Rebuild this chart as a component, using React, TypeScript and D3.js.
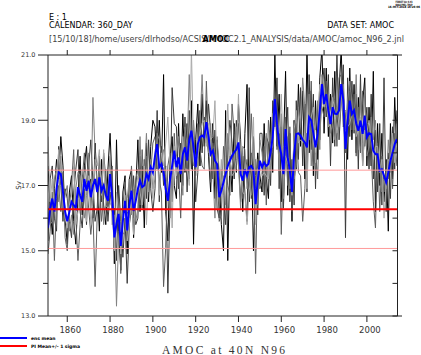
import React from "react";
import * as d3 from "d3";

const startYear = 1851;

const ensMean = [
  15.7, 16.3, 16.6, 16.2, 16.9, 17.4, 17.35, 16.8, 16.2, 15.9,
  16.2, 16.5, 16.4, 16.3, 16.95, 16.7, 16.5, 17.2, 16.84, 17.15,
  16.64, 17.0, 17.2, 16.8, 17.25, 16.84, 17.0, 16.7, 16.53, 17.35,
  16.64, 15.41, 15.82, 16.13, 15.15, 15.92, 16.53, 15.62, 16.4, 16.84,
  16.22, 16.53, 16.9, 17.15, 16.95, 17.0, 17.35, 17.2, 17.56, 17.4,
  17.9, 18.27, 17.56, 17.66, 17.4, 16.9, 16.53, 17.15, 17.6, 18.07,
  17.56, 17.86, 17.35, 17.96, 18.17, 17.76, 18.4, 18.68, 18.17, 17.56,
  18.27, 18.48, 18.53, 18.48, 18.94, 18.5, 17.96, 18.07, 17.76, 17.66,
  16.64, 16.84, 17.1, 17.35, 17.6, 17.76, 17.91, 18.02, 18.1, 18.32,
  17.35, 17.15, 17.5, 17.3, 17.56, 17.6, 17.46, 16.43, 17.15, 17.76,
  17.56, 17.71, 17.6, 17.66, 18.02, 18.48, 19.65, 18.88, 18.27, 17.96,
  17.35, 18.73, 17.86, 17.46, 16.8, 17.96, 18.58, 18.6, 18.53, 18.4,
  18.32, 18.17, 19.09, 18.99, 18.6, 18.17, 18.58, 19.3, 20.11, 19.5,
  19.8, 19.3, 18.88, 19.4, 19.2, 19.19, 19.3, 20.11, 19.6, 18.12,
  18.99, 19.6, 19.19, 19.3, 18.9, 18.68, 18.99, 18.58, 19.14, 18.48,
  18.6, 18.58, 18.07, 17.96, 17.96, 17.46, 17.5, 17.3, 17.1, 17.4,
  17.76, 18.0, 18.27, 18.42,
];

const member1 = [
  17.6, 16.4, 15.5, 16.9, 17.8, 17.2, 18.5, 17.6, 16.0, 15.2,
  16.8, 17.3, 15.9, 15.2, 16.6, 17.9, 16.1, 17.6, 18.2, 16.9,
  17.2, 16.0, 18.3, 17.0, 15.6, 17.8, 16.4, 15.8, 17.5, 18.6,
  17.0, 14.6, 18.4, 15.6, 14.4, 16.8, 17.3, 14.9, 17.2, 17.5,
  15.4, 16.9, 18.4, 16.2, 17.6, 15.7, 18.3, 16.5, 18.2, 19.0,
  18.8, 17.5, 19.0, 17.4, 20.4, 16.2, 15.3, 17.8, 18.5, 17.0,
  16.6, 18.9, 17.1, 19.2, 17.4, 18.9, 17.2, 19.6, 15.2, 18.4,
  19.5, 17.6, 19.8, 18.2, 19.6, 17.9, 16.8, 18.9, 16.6, 18.4,
  17.2, 15.8, 15.0, 19.3, 14.7, 17.9, 16.8, 18.9, 17.4, 19.5,
  18.4, 16.2, 18.6, 20.1, 16.5, 18.0, 15.0, 16.9, 18.0, 17.3,
  16.8, 18.9, 17.2, 16.6, 19.1, 17.4, 21.0, 18.2, 19.8, 16.5,
  18.2, 20.5, 16.7, 18.6, 15.9, 19.0, 17.5, 20.1, 18.2, 19.9,
  17.2, 21.1, 18.0, 19.9, 17.3, 19.6, 17.8, 20.3, 21.2, 18.6,
  20.6, 18.5, 19.8, 18.3, 20.5, 18.6, 19.9, 21.2, 18.8, 19.3,
  17.8, 20.6, 18.4, 20.1, 18.0, 19.7, 18.2, 19.5, 20.3, 17.6,
  19.4, 17.6, 20.5, 16.2, 18.9, 17.0, 18.6, 16.5, 17.8, 15.6,
  18.9, 17.2, 19.7, 18.0,
];

const member2 = [
  15.3, 17.2, 17.6, 16.0, 15.6, 18.2, 17.0, 15.9, 16.9, 16.6,
  15.9, 15.4, 16.8, 17.5, 18.1, 16.2, 15.7, 16.9, 15.8, 17.6,
  18.4, 17.1, 15.9, 16.3, 17.9, 16.5, 18.0, 17.2, 15.9, 16.8,
  16.2, 16.3, 14.7, 17.0, 15.9, 14.8, 16.0, 14.0, 15.8, 16.3,
  17.3, 15.8, 16.0, 17.9, 16.3, 17.8, 16.6, 18.4, 16.9, 16.2,
  16.9, 19.3, 16.5, 18.2, 17.0, 17.6, 13.7, 16.4, 20.0, 18.9,
  18.8, 16.9, 18.3, 17.0, 19.1, 16.8, 19.3, 17.5, 18.9, 16.5,
  17.4, 19.3, 18.0, 19.1, 18.3, 19.5, 18.6, 17.2, 18.7, 16.3,
  16.0, 17.5, 16.7, 15.8, 18.1, 19.0, 18.3, 17.2, 19.0, 17.8,
  16.5, 17.9, 16.8, 15.9, 20.0, 16.6, 18.5, 17.3, 16.1, 18.6,
  18.6, 16.7, 18.5, 18.3, 17.0, 19.6, 18.8, 20.3, 16.9, 18.8,
  16.3, 18.2, 19.4, 16.5, 17.8, 16.4, 19.6, 17.8, 20.0, 17.6,
  19.5, 16.8, 20.4, 18.1, 19.8, 16.9, 19.5, 18.4, 20.0, 20.6,
  19.1, 20.4, 17.6, 20.3, 18.2, 21.1, 18.4, 19.6, 20.7, 15.4,
  20.3, 18.5, 20.2, 18.6, 19.8, 17.5, 20.4, 17.6, 18.7, 19.4,
  17.5, 19.8, 17.2, 18.7, 16.8, 18.9, 16.4, 20.3, 16.2, 18.0,
  16.6, 18.8, 17.5, 19.3,
];

const member3 = [
  14.9, 15.6, 16.8, 14.7, 16.6, 17.0, 16.2, 17.4, 15.4, 15.0,
  16.3, 17.0, 18.1, 16.0, 14.7, 15.8, 17.2, 18.0, 17.1, 16.3,
  15.5, 16.2, 13.9, 16.1, 17.4, 15.9, 16.6, 17.5, 16.2, 17.1,
  17.6, 15.0, 15.9, 16.6, 14.3, 16.4, 17.1, 16.2, 16.0, 17.6,
  16.0, 17.2, 17.5, 16.4, 18.1, 16.5, 17.9, 17.0, 17.4, 18.3,
  18.5, 17.9, 17.2, 16.8, 13.9, 15.1, 17.6, 18.0, 16.5, 18.6,
  17.2, 17.4, 16.0, 18.3, 18.0, 17.4, 18.1, 17.9, 19.0, 17.3,
  18.9, 18.1, 17.6, 17.5, 20.2, 18.2, 17.1, 18.3, 17.9, 17.6,
  15.9, 16.1, 18.2, 17.6, 17.0, 16.7, 19.5, 18.6, 17.5, 18.9,
  17.9, 16.6, 17.3, 17.8, 17.1, 19.2, 17.6, 14.3, 17.8, 16.9,
  17.1, 18.2, 16.4, 19.0, 18.3, 18.0, 19.7, 18.1, 18.6, 15.5,
  17.8, 19.1, 17.0, 18.8, 16.2, 18.5, 18.9, 17.4, 17.3, 15.9,
  16.9, 18.6, 18.4, 20.2, 17.6, 18.0, 17.2, 19.6, 19.4, 19.1,
  20.2, 19.0, 19.5, 19.8, 19.6, 18.2, 20.3, 20.4, 19.2, 18.0,
  18.6, 19.9, 18.7, 19.8, 17.9, 19.4, 18.0, 19.9, 18.2, 18.9,
  18.9, 18.0, 16.5, 15.7, 18.3, 16.2, 17.9, 16.8, 17.5, 17.2,
  18.2, 16.9, 18.6, 17.6,
];

const member4 = [
  16.2, 15.8, 15.9, 17.2, 17.5, 16.5, 17.9, 16.3, 16.7, 17.0,
  15.6, 16.1, 15.5, 16.9, 17.4, 17.3, 16.6, 16.0, 16.7, 18.0,
  16.3, 19.7, 18.0, 16.9, 17.5, 17.2, 15.8, 16.4, 16.8, 17.9,
  15.8, 16.1, 13.3, 15.4, 16.3, 15.5, 15.6, 16.6, 17.2, 16.1,
  16.9, 15.9, 16.3, 18.5, 16.4, 17.4, 18.6, 16.8, 17.8, 16.9,
  17.2, 18.6, 18.4, 17.9, 18.1, 17.3, 16.9, 16.0, 17.3, 17.7,
  17.9, 18.5, 17.8, 16.7, 18.8, 18.2, 20.4, 18.4, 17.6, 17.9,
  17.6, 18.8, 20.4, 18.6, 18.4, 18.0, 18.9, 17.5, 16.0, 18.5,
  17.4, 17.0, 17.3, 16.4, 18.6, 17.3, 17.6, 17.9, 18.8, 17.6,
  16.3, 18.2, 18.1, 16.9, 17.4, 16.7, 17.1, 17.8, 16.4, 18.4,
  18.0, 17.3, 18.6, 17.2, 17.6, 19.2, 19.3, 19.0, 17.5, 19.2,
  16.6, 17.9, 18.5, 16.9, 17.4, 17.2, 17.6, 19.4, 18.8, 20.3,
  19.4, 17.5, 19.8, 17.6, 18.9, 18.7, 19.6, 18.1, 20.4, 19.8,
  19.4, 19.8, 18.6, 18.9, 18.4, 19.4, 18.8, 19.5, 20.1, 18.7,
  19.6, 20.2, 19.5, 18.7, 20.4, 18.1, 19.6, 18.3, 19.9, 17.9,
  18.2, 19.1, 18.4, 19.0, 17.6, 17.8, 16.8, 17.2, 16.9, 18.4,
  17.4, 18.5, 17.8, 18.9,
];

const member5 = [
  18.5, 16.5, 17.2, 16.2, 17.0, 18.1, 17.2, 16.8, 16.0, 15.7,
  16.4, 16.7, 17.6, 15.8, 16.2, 16.9, 17.5, 17.4, 15.9, 17.3,
  15.8, 16.5, 17.8, 17.6, 18.1, 16.7, 18.1, 16.4, 16.3, 16.4,
  16.6, 15.0, 16.8, 16.1, 14.9, 16.1, 16.7, 15.3, 15.8, 16.7,
  15.5, 16.8, 17.3, 16.8, 16.4, 17.6, 15.8, 17.3, 17.5, 16.6,
  18.1, 18.0, 16.7, 18.0, 17.6, 18.3, 19.1, 17.6, 15.7, 18.2,
  17.3, 17.6, 17.6, 18.5, 17.5, 17.5, 17.0, 21.2, 18.2, 17.7,
  17.9, 18.6, 18.9, 19.0, 18.2, 18.9, 18.4, 18.5, 19.6, 17.5,
  16.7, 17.8, 16.3, 17.9, 19.5, 17.8, 17.3, 17.4, 17.8, 19.8,
  17.6, 16.8, 16.7, 15.8, 16.8, 17.5, 19.1, 15.8, 17.5, 17.6,
  17.3, 17.4, 17.3, 17.2, 18.1, 18.2, 19.5, 18.8, 18.6, 19.8,
  17.9, 17.9, 17.7, 17.5, 16.7, 18.7, 19.3, 18.3, 18.4, 18.3,
  18.6, 16.9, 18.8, 19.1, 19.4, 17.7, 18.8, 20.1, 19.6, 19.4,
  19.7, 18.8, 18.9, 19.7, 19.3, 18.6, 19.1, 19.9, 19.2, 19.3,
  18.8, 18.9, 19.2, 19.3, 18.5, 18.7, 19.1, 17.6, 18.7, 18.6,
  19.0, 18.4, 17.8, 18.2, 18.2, 17.4, 17.8, 16.0, 17.1, 17.8,
  17.7, 18.6, 17.7, 18.3,
];

const members = [member1, member2, member3, member4, member5];
const memberColors = ["#000000", "#3a3a3a", "#5e5e5e", "#828282", "#a9a9a9"];

const piMean = 16.27;
const piSigma = 1.2;

const yTicks = [13, 14, 15, 16, 17, 18, 19, 20, 21];
const yLabels = [13, 15, 17, 19, 21];
const xTicks = [1860, 1880, 1900, 1920, 1940, 1960, 1980, 2000];

const W = 421, H = 355;
const L = 48, R = 397.5, T = 55, B = 316;

export default function App() {
  const x = d3.scaleLinear().domain([1851, 2014.3]).range([L, R]);
  const y = d3.scaleLinear().domain([13, 21]).range([B, T]);
  const line = d3
    .line<number>()
    .x((_, i) => x(startYear + i))
    .y((d) => y(d));

  const font = "'DejaVu Sans', 'Liberation Sans', sans-serif";

  return (
    <svg
      width={W}
      height={H}
      style={{ position: "absolute", left: 0, top: 0, background: "#fff" }}
      fontFamily={font}
    >
      <defs>
        <clipPath id="plotclip">
          <rect x={L} y={T} width={R - L} height={B - T} />
        </clipPath>
      </defs>
      <rect x={0} y={0} width={W} height={H} fill="#fff" />

      {/* tiny stamp */}
      <g fontSize={3} fontWeight="bold" fill="#000" textAnchor="middle">
        <text x={404} y={3.2} textLength={17} lengthAdjust="spacingAndGlyphs">FERRET Ver. 6.93</text>
        <text x={404} y={5.7} textLength={17} lengthAdjust="spacingAndGlyphs">NOAA/PMEL TMAP</text>
        <text x={404} y={8.2} textLength={32} lengthAdjust="spacingAndGlyphs">16-OCT-2018 16:26:06</text>
      </g>

      {/* header */}
      <g fill="#000" fontSize={8}>
        <text x={49} y={20}>E : 1</text>
        <text x={49} y={28}>CALENDAR: 360_DAY</text>
        <text x={394} y={28} textAnchor="end">DATA SET: AMOC</text>
      </g>
      <text
        x={49}
        y={42}
        fontSize={8.5}
        fill="#444"
        textLength={355}
        lengthAdjust="spacingAndGlyphs"
      >
        [15/10/18]/home/users/dlrhodso/ACSIS/AMOC2.1_ANALYSIS/data/AMOC/amoc_N96_2.jnl
      </text>
      <text x={216} y={41.5} fontSize={8} fontWeight="bold" fill="#000" textAnchor="middle">
        AMOC
      </text>

      {/* data */}
      <g clipPath="url(#plotclip)" fill="none">
        {members.map((m, k) => (
          <path key={k} d={line(m) || ""} stroke={memberColors[k]} strokeWidth={1} />
        ))}
        <path d={line(ensMean) || ""} stroke="#0000ff" strokeWidth={2} />
        <line x1={L} x2={R} y1={y(piMean + piSigma)} y2={y(piMean + piSigma)} stroke="#ff9a9a" strokeWidth={1} />
        <line x1={L} x2={R} y1={y(piMean - piSigma)} y2={y(piMean - piSigma)} stroke="#ff9a9a" strokeWidth={1} />
        <line x1={L} x2={R} y1={y(piMean)} y2={y(piMean)} stroke="#ff0000" strokeWidth={2} />
      </g>

      {/* frame */}
      <g stroke="#222" strokeWidth={1} fill="none">
        <line x1={L} x2={L} y1={T} y2={B} />
        <line x1={R} x2={R} y1={T} y2={B} />
        <line x1={L} x2={402} y1={T} y2={T} />
        <line x1={L} x2={402} y1={B} y2={B} />
        {yTicks.map((t) => (
          <g key={t}>
            <line x1={yLabels.includes(t) ? L - 10 : L - 5} x2={L} y1={y(t)} y2={y(t)} />
            <line x1={R - 5} x2={R} y1={y(t)} y2={y(t)} />
          </g>
        ))}
        {xTicks.map((t) => (
          <g key={t}>
            <line x1={x(t)} x2={x(t)} y1={B} y2={B + 6} />
            <line x1={x(t)} x2={x(t)} y1={T} y2={T - 5} />
          </g>
        ))}
      </g>

      {/* y labels */}
      <g fontSize={6.5} fill="#333" textAnchor="end">
        {yLabels.map((t) => (
          <text key={t} x={35.5} y={y(t) + 2.3}>
            {t.toFixed(1)}
          </text>
        ))}
      </g>
      <text
        x={0}
        y={0}
        fontSize={7}
        fill="#333"
        textAnchor="middle"
        transform={`translate(20.5,${(T + B) / 2}) rotate(-90)`}
      >
        Sv
      </text>

      {/* x labels */}
      <g fontSize={8.5} fill="#333" textAnchor="middle">
        {xTicks.map((t) => (
          <text key={t} x={x(t) + 3} y={333}>
            {t}
          </text>
        ))}
      </g>

      {/* legend */}
      <line x1={0} x2={27} y1={338} y2={338} stroke="#0000ff" strokeWidth={2} />
      <text x={31} y={340} fontSize={4.5} fontWeight="bold" fill="#000">ens mean</text>
      <line x1={0} x2={27} y1={346} y2={346} stroke="#ff0000" strokeWidth={2} />
      <text x={31} y={348} fontSize={4.5} fontWeight="bold" fill="#000">PI Mean+/- 1 sigma</text>

      {/* title */}
      <text
        x={162}
        y={353.5}
        fontSize={11.5}
        fontFamily="'Liberation Serif', 'DejaVu Serif', serif"
        fill="#333"
        textLength={123}
        lengthAdjust="spacing"
      >
        AMOC at 40N N96
      </text>
    </svg>
  );
}
